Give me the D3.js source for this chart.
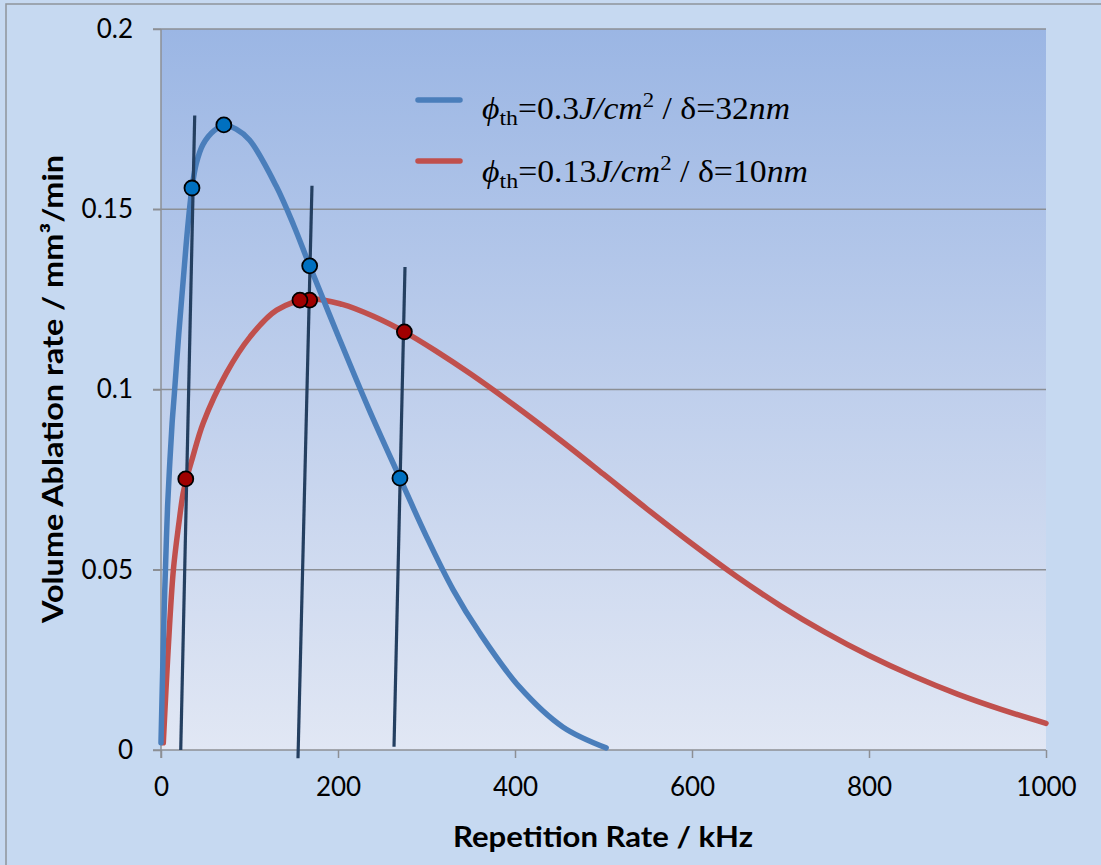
<!DOCTYPE html>
<html><head><meta charset="utf-8">
<script src="https://cdn.jsdelivr.net/npm/d3@7"></script>
<style>html,body{margin:0;padding:0;background:#C6D9F1;}svg{display:block;}</style>
</head><body>
<script>
// ---- data ----
const blueX = [0, 1.5, 3.5, 5, 7.5, 10, 12.5, 15, 20, 25, 30, 35, 40, 47.5, 60, 72, 85, 100, 130, 150, 168, 200, 235, 270, 300, 330, 360, 405, 454, 503];
const blueY = [0.002, 0.018, 0.038, 0.05, 0.068, 0.08, 0.0905, 0.0985, 0.1152, 0.13, 0.1445, 0.1559, 0.1628, 0.168, 0.1718, 0.1733, 0.1722, 0.1692, 0.1565, 0.1455, 0.1343, 0.115, 0.0945, 0.0754, 0.0592, 0.0445, 0.0325, 0.0175, 0.0064, 0.0006];
const redX = [2.6, 8, 14, 20, 25, 29, 35, 47.7, 74, 100.6, 130.7, 168, 205, 240, 275, 310, 350, 400, 450, 500, 550, 600, 650, 700, 750, 800, 850, 900, 950, 1000];
const redY = [0.002, 0.0275, 0.05, 0.0625, 0.0712, 0.0754, 0.0805, 0.0907, 0.1046, 0.1146, 0.122, 0.1251, 0.1236, 0.1203, 0.116, 0.1108, 0.1043, 0.0955, 0.0862, 0.0765, 0.0667, 0.0572, 0.0482, 0.040, 0.0327, 0.0262, 0.0205, 0.0155, 0.0112, 0.0074];
const blueMarkers = [[35, 0.1559], [71, 0.1734], [168, 0.1343], [270, 0.0754]];
const redMarkers = [[28, 0.0752], [168, 0.1248], [157, 0.1248], [275, 0.116]];
const lineSegs = [
  [[22.3, 0], [38.1, 0.176]],
  [[154.8, -0.0023], [170.6, 0.1565]],
  [[263.3, 0.0009], [275.7, 0.134]]
];
const xTicks = [0, 200, 400, 600, 800, 1000];
const yTicks = [0, 0.05, 0.1, 0.15, 0.2];
const yTickLabels = ["0", "0.05", "0.1", "0.15", "0.2"];
const xTitle = "Repetition Rate / kHz";
const yTitle = "Volume Ablation rate / mm³/min";

// ---- layout ----
const W = 1101, H = 865;
const L = 161, R = 1046, T = 29, B = 750;
const svg = d3.select("body").append("svg").attr("width", W).attr("height", H);
const x = d3.scaleLinear().domain([0, 1000]).range([L, R]);
const y = d3.scaleLinear().domain([0, 0.2]).range([B, T]);

svg.append("rect").attr("x", 0).attr("y", 0).attr("width", W).attr("height", H).attr("fill", "#C6D9F1");
svg.append("rect").attr("x", 6).attr("y", 4).attr("width", W + 10).attr("height", H + 10)
  .attr("fill", "none").attr("stroke", "#8f949a").attr("stroke-width", 1.5);

const defs = svg.append("defs");
const grad = defs.append("linearGradient").attr("id", "bg").attr("x1", 0).attr("y1", 0).attr("x2", 0).attr("y2", 1);
grad.append("stop").attr("offset", "0%").attr("stop-color", "#9BB6E4");
grad.append("stop").attr("offset", "50%").attr("stop-color", "#BFCFEC");
grad.append("stop").attr("offset", "100%").attr("stop-color", "#E1E7F4");
svg.append("rect").attr("x", L).attr("y", T).attr("width", R - L).attr("height", B - T).attr("fill", "url(#bg)");

// gridlines
svg.append("g").selectAll("line").data(yTicks.slice(1)).join("line")
  .attr("x1", L - 8).attr("x2", R).attr("y1", d => y(d)).attr("y2", d => y(d))
  .attr("stroke", "#8C8F94").attr("stroke-width", 1.5);

// axes
const yAxis = d3.axisLeft(y).tickValues(yTicks).tickSize(8).tickPadding(20).tickFormat((d, i) => yTickLabels[i]);
const gy = svg.append("g").attr("transform", `translate(${L},0)`).call(yAxis);
gy.select(".domain").attr("stroke", "#8C8F94").attr("stroke-width", 1.5).attr("d", `M0,${T}V${B + 8}`);
gy.selectAll(".tick line").attr("stroke", "#8C8F94").attr("stroke-width", 1.5);
gy.selectAll(".tick text").attr("font-family", "Lato, sans-serif").attr("font-size", 26).attr("fill", "#000");

const xAxis = d3.axisBottom(x).tickValues(xTicks).tickSize(8).tickPadding(20).tickFormat(d3.format("d"));
const gx = svg.append("g").attr("transform", `translate(0,${B})`).call(xAxis);
gx.select(".domain").attr("stroke", "#8C8F94").attr("stroke-width", 1.5).attr("d", `M${L - 8},0H${R}`);
gx.selectAll(".tick line").attr("stroke", "#8C8F94").attr("stroke-width", 1.5);
gx.selectAll(".tick text").attr("font-family", "Lato, sans-serif").attr("font-size", 26).attr("fill", "#000");

// curves
const line = d3.line().x(d => x(d[0])).y(d => y(d[1])).curve(d3.curveCatmullRom.alpha(0.5));
svg.append("path").datum(redX.map((v, i) => [v, redY[i]])).attr("d", line)
  .attr("fill", "none").attr("stroke", "#C0504D").attr("stroke-width", 5.5).attr("stroke-linecap", "round");
svg.append("path").datum(blueX.map((v, i) => [v, blueY[i]])).attr("d", line)
  .attr("fill", "none").attr("stroke", "#4A7EBB").attr("stroke-width", 5.5).attr("stroke-linecap", "round");

// dark segments
const segLine = d3.line().x(d => x(d[0])).y(d => y(d[1]));
svg.append("g").selectAll("path").data(lineSegs).join("path").attr("d", segLine)
  .attr("fill", "none").attr("stroke", "#243F60").attr("stroke-width", 3.2);

// markers
svg.append("g").selectAll("circle").data(blueMarkers).join("circle")
  .attr("cx", d => x(d[0])).attr("cy", d => y(d[1])).attr("r", 7.5)
  .attr("fill", "#0070C0").attr("stroke", "#000").attr("stroke-width", 1.8);
svg.append("g").selectAll("circle").data(redMarkers).join("circle")
  .attr("cx", d => x(d[0])).attr("cy", d => y(d[1])).attr("r", 7.5)
  .attr("fill", "#A00000").attr("stroke", "#000").attr("stroke-width", 1.8);

// legend
const legend = [
  {color: "#4A7EBB", y: 100, base: 119, len: 308, parts: [["ϕ", "i"], ["th", "sub"], ["=0.3", "n"], ["J/cm", "i"], ["2", "sup"], [" / δ=32", "n"], ["nm", "i"]]},
  {color: "#C0504D", y: 161, base: 182, len: 326, parts: [["ϕ", "i"], ["th", "sub"], ["=0.13", "n"], ["J/cm", "i"], ["2", "sup"], [" / δ=10", "n"], ["nm", "i"]]}
];
legend.forEach(l => {
  svg.append("line").attr("x1", 418).attr("x2", 460).attr("y1", l.y).attr("y2", l.y)
    .attr("stroke", l.color).attr("stroke-width", 5.5).attr("stroke-linecap", "round");
  const t = svg.append("text").attr("x", 482).attr("y", l.base)
    .attr("font-family", "'Liberation Serif', 'Times New Roman', serif").attr("font-size", 31).attr("fill", "#000")
    .attr("textLength", l.len).attr("lengthAdjust", "spacingAndGlyphs");
  let shift = 0;
  l.parts.forEach(([s, k]) => {
    const ts = t.append("tspan").text(s);
    if (k === "i") ts.attr("font-style", "italic");
    let target = 0;
    if (k === "sub") { ts.attr("font-size", 22); target = 6; }
    else if (k === "sup") { ts.attr("font-size", 21); target = -12; }
    ts.attr("dy", target - shift);
    shift = target;
  });
});

// axis titles
svg.append("text").attr("x", 603).attr("y", 847).attr("text-anchor", "middle")
  .attr("font-family", "Lato, sans-serif").attr("font-weight", "bold").attr("font-size", 28)
  .attr("textLength", 300).attr("lengthAdjust", "spacingAndGlyphs").text(xTitle);
svg.append("text").attr("transform", "translate(63,389) rotate(-90)").attr("text-anchor", "middle")
  .attr("font-family", "Lato, sans-serif").attr("font-weight", "bold").attr("font-size", 28)
  .attr("textLength", 468).attr("lengthAdjust", "spacingAndGlyphs").text(yTitle);
</script>
</body></html>
